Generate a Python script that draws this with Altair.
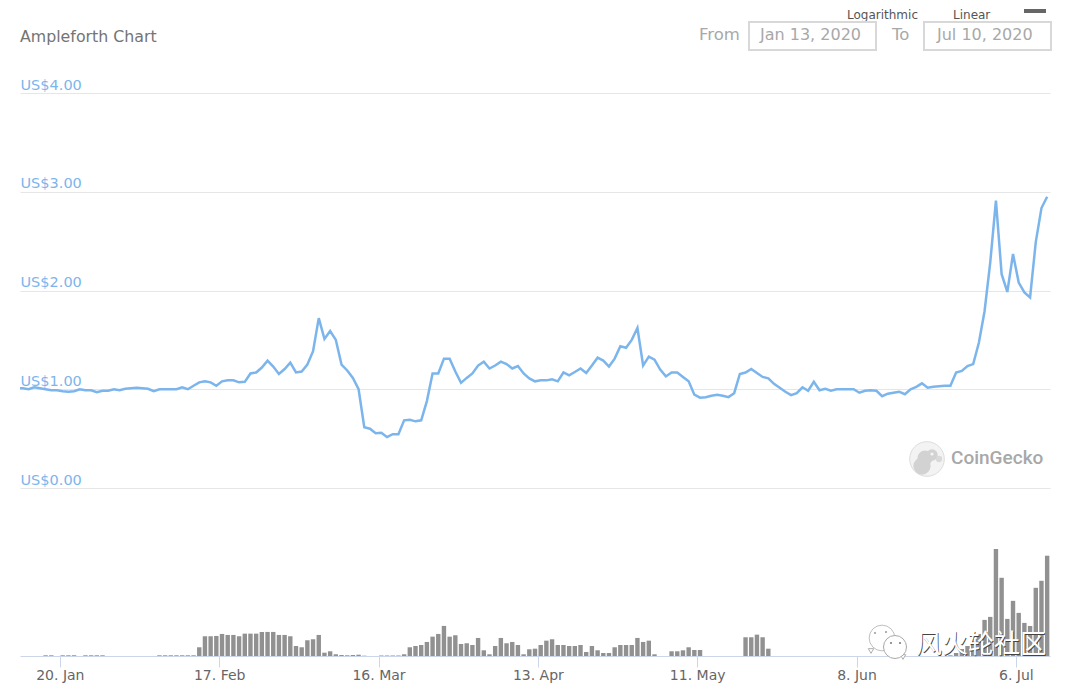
import altair as alt
import pandas as pd

# price per sample (US$); first value is the Jan 13 00:00 opening point, the rest are daily at 12:00
price = [1.01,
 1.01,1.00,1.02,1.01,1.00,.99,.99,.98,.975,.98,1.00,.99,.99,.97,.985,.985,1.00,.99,1.005,1.01,
 1.015,1.01,1.005,.98,1.00,1.00,1.00,1.00,1.02,1.00,1.035,1.07,1.08,1.07,1.035,1.08,1.09,1.09,1.07,1.075,
 1.16,1.17,1.22,1.29,1.23,1.155,1.205,1.27,1.17,1.18,1.25,1.385,1.72,1.51,1.59,1.50,1.25,1.19,1.115,1.00,
 .615,.60,.555,.56,.515,.545,.545,.685,.69,.675,.685,.88,1.16,1.16,1.31,1.31,1.18,1.065,1.115,1.16,
 1.24,1.28,1.21,1.24,1.28,1.255,1.21,1.235,1.16,1.11,1.08,1.09,1.09,1.10,1.08,1.17,1.14,1.175,1.21,1.165,
 1.24,1.32,1.29,1.23,1.31,1.435,1.42,1.50,1.62,1.24,1.33,1.30,1.20,1.13,1.17,1.17,1.125,1.08,.945,.915,
 .92,.935,.945,.935,.92,.96,1.155,1.17,1.205,1.165,1.125,1.11,1.055,1.015,.975,.94,.96,1.02,.985,1.075,
 .99,1.005,.985,1.00,1.00,1.00,1.00,.965,.985,.99,.985,.93,.955,.965,.975,.95,1.00,1.025,1.06,1.015,
 1.025,1.03,1.035,1.035,1.17,1.185,1.235,1.255,1.47,1.79,2.285,2.91,2.165,1.985,2.37,2.08,1.98,1.93,2.49,2.835,
 2.95]

# volume per daily sample (relative units)
volume = [0,0,0,0,.7,.7,0,.7,.7,.7,0,.7,.7,.7,.7,0,0,0,0,0,
 0,0,0,0,.7,.7,.7,.7,.7,.7,.7,8.7,19.7,19.7,20,22,21,21,19.7,22.3,
 22.3,22.3,24,24,24,21,21,19.7,10,8.7,15.7,16.7,21,3.3,4.7,1.7,1,.7,1,1.3,
 .3,0,0,.5,.5,.5,.5,1.7,8.7,10,11,14,19.3,22,30,19.3,20.7,12,12.7,11,
 18,5.7,1.7,10,18,12.7,14,11,1.7,6.7,7.3,11,15.3,16.7,11,11,10,10,11,4,
 10,5.7,3,3,8.7,11,11,11,18,14,15.3,1.7,0,0,4.7,4.7,5.7,8.7,6,6,
 0,0,0,0,0,0,0,18.7,18.7,21.3,18.7,7.3,0,0,0,0,0,0,0,0,
 0,0,0,0,0,0,0,0,0,0,0,0,0,0,0,0,0,0,0,0,
 0,0,0,.7,3,7,10,15,22,36,39,106.7,78,37,55,43,33,30,68,75,
 100]

price_times = pd.date_range("2020-01-13 12:00", periods=len(price) - 1, freq="D")
price_df = pd.DataFrame({"t": [pd.Timestamp("2020-01-13 00:00")] + list(price_times), "price": price})
vol_df = pd.DataFrame({"t": pd.date_range("2020-01-13 12:00", periods=len(volume), freq="D"), "volume": volume})
for d in (price_df, vol_df):
    d["t"] = d["t"].dt.strftime("%Y-%m-%dT%H:%M:%SZ")

tick_dates = ["2020-01-20", "2020-02-17", "2020-03-16", "2020-04-13", "2020-05-11", "2020-06-08", "2020-07-06"]
tick_ts = [alt.DateTime(year=int(d[:4]), month=int(d[5:7]), date=int(d[8:]), utc=True) for d in tick_dates]
price_ticks = [0, 1, 2, 3, 4]

W, H = 1064, 680
FONT = "DejaVu Sans"
xscale = alt.Scale(type="utc", domain=["2020-01-13T00:00:00Z", "2020-07-12T00:00:00Z"], range=[12, 1042], padding=0)
xaxis = alt.Axis(
    values=tick_ts, labelExpr="utcFormat(datum.value, '%-d. %b')", orient="bottom", offset=-32, grid=False,
    domainColor="#ccd6eb", tickColor="#ccd6eb", tickSize=11, labelColor="#666666",
    labelFontSize=14, labelFont=FONT, labelPadding=1, title=None, labelFlush=False, labelOverlap=False)

bars = alt.Chart(vol_df).mark_bar(color="#919191", size=4.4).encode(
    x=alt.X("t:T", scale=xscale, axis=xaxis),
    y=alt.Y("volume:Q", scale=alt.Scale(domain=[0, 106.7], range=[648, 541]), axis=None),
)
line = alt.Chart(price_df).mark_line(color="#7cb5ec", strokeWidth=2.5, interpolate="linear").encode(
    x=alt.X("t:T", scale=xscale, axis=xaxis),
    y=alt.Y("price:Q", scale=alt.Scale(domain=[0, 4], range=[480, 85]), axis=alt.Axis(
        values=price_ticks, format=".2f", labelExpr="'US$' + format(datum.value, '.2f')", orient="left", domain=False, ticks=False,
        grid=True, gridColor="#e6e6e6", gridWidth=1, labelColor="#7cb5ec", labelFontSize=14.5, labelFont=FONT,
        labelAlign="left", labelBaseline="bottom", labelPadding=-12, labelOffset=-1, title=None)),
)

def txt(text, x, y, size=14, color="#666666", align="left", font=FONT, **kw):
    return alt.Chart(pd.DataFrame({"s": [text]})).mark_text(
        align=align, baseline="middle", fontSize=size, color=color, font=font, **kw
    ).encode(x=alt.value(x), y=alt.value(y), text="s:N")

def box(x, x2, y, y2, fill="white", stroke="#d8d8d8", sw=2):
    return alt.Chart(pd.DataFrame({"a": [0]})).mark_rect(fill=fill, stroke=stroke, strokeWidth=sw).encode(
        x=alt.value(x), x2=alt.value(x2), y=alt.value(y), y2=alt.value(y2))

def dot(x, y, size, fill, stroke=None, sw=1, shape="circle"):
    kw = {"stroke": stroke, "strokeWidth": sw} if stroke else {"strokeWidth": 0}
    return alt.Chart(pd.DataFrame({"a": [0]})).mark_point(filled=True, fill=fill, size=size, opacity=1, shape=shape, **kw).encode(
        x=alt.value(x), y=alt.value(y))

deco = [
    txt("Ampleforth Chart", 12, 28.5, 15.8, "#747474"),
    txt("Logarithmic", 839, 7, 12, "#555555"),
    txt("Linear", 945, 7, 12, "#555555"),
    box(1016, 1038, 1, 5, "#666666", "#666666", 0),
    txt("From", 691, 26.5, 16.5, "#a8a8a8"),
    box(741, 868, 14, 42),
    txt("Jan 13, 2020", 752, 26.5, 16, "#a8a8a8"),
    txt("To", 884, 26.5, 16.5, "#a8a8a8"),
    box(916, 1043, 14, 42),
    txt("Jul 10, 2020", 929, 26.5, 16, "#a8a8a8"),
    # CoinGecko logo
    dot(919, 451, 1200, "#f3f3f3", "#dddddd", 1),
    dot(914, 458, 300, "#d2d2d2"),
    dot(917, 450, 230, "#d2d2d2"),
    dot(924, 447, 130, "#d2d2d2"),
    dot(931, 451, 40, "#d9d9d9"),
    dot(924, 446, 10, "#f5f5f5"),
    txt("CoinGecko", 943, 450, 19, "#a8a8a8", font="Roboto", fontWeight=500),
    # WeChat watermark
    dot(863, 643, 30, "white", "#b0b0b0", 1, "triangle-down"),
    dot(874, 630, 660, "white", "#c0c0c0", 1),
    dot(867, 625, 5, "#a0a0a0"),
    dot(878, 624, 5, "#a0a0a0"),
    dot(895, 649, 30, "white", "#b0b0b0", 1, "triangle-down"),
    dot(887, 639, 530, "white", "#a8a8a8", 1),
    dot(883, 635, 5, "#808080"),
    dot(892, 635, 5, "#808080"),
    txt("风火轮社区", 908.8, 637.6, 26, "#444444", font="Noto Sans CJK SC", strokeWidth=0),
    txt("风火轮社区", 908, 637, 26, "white", font="Noto Sans CJK SC", strokeWidth=0),
]

chart = alt.layer(line, bars, *deco).resolve_scale(y="independent").properties(
    width=W, height=H, padding=0, background="white", autosize=alt.AutoSizeParams(type="none"),
).configure_view(strokeWidth=0)

chart.save("out.html", embed_options={"renderer": "svg", "actions": False})
